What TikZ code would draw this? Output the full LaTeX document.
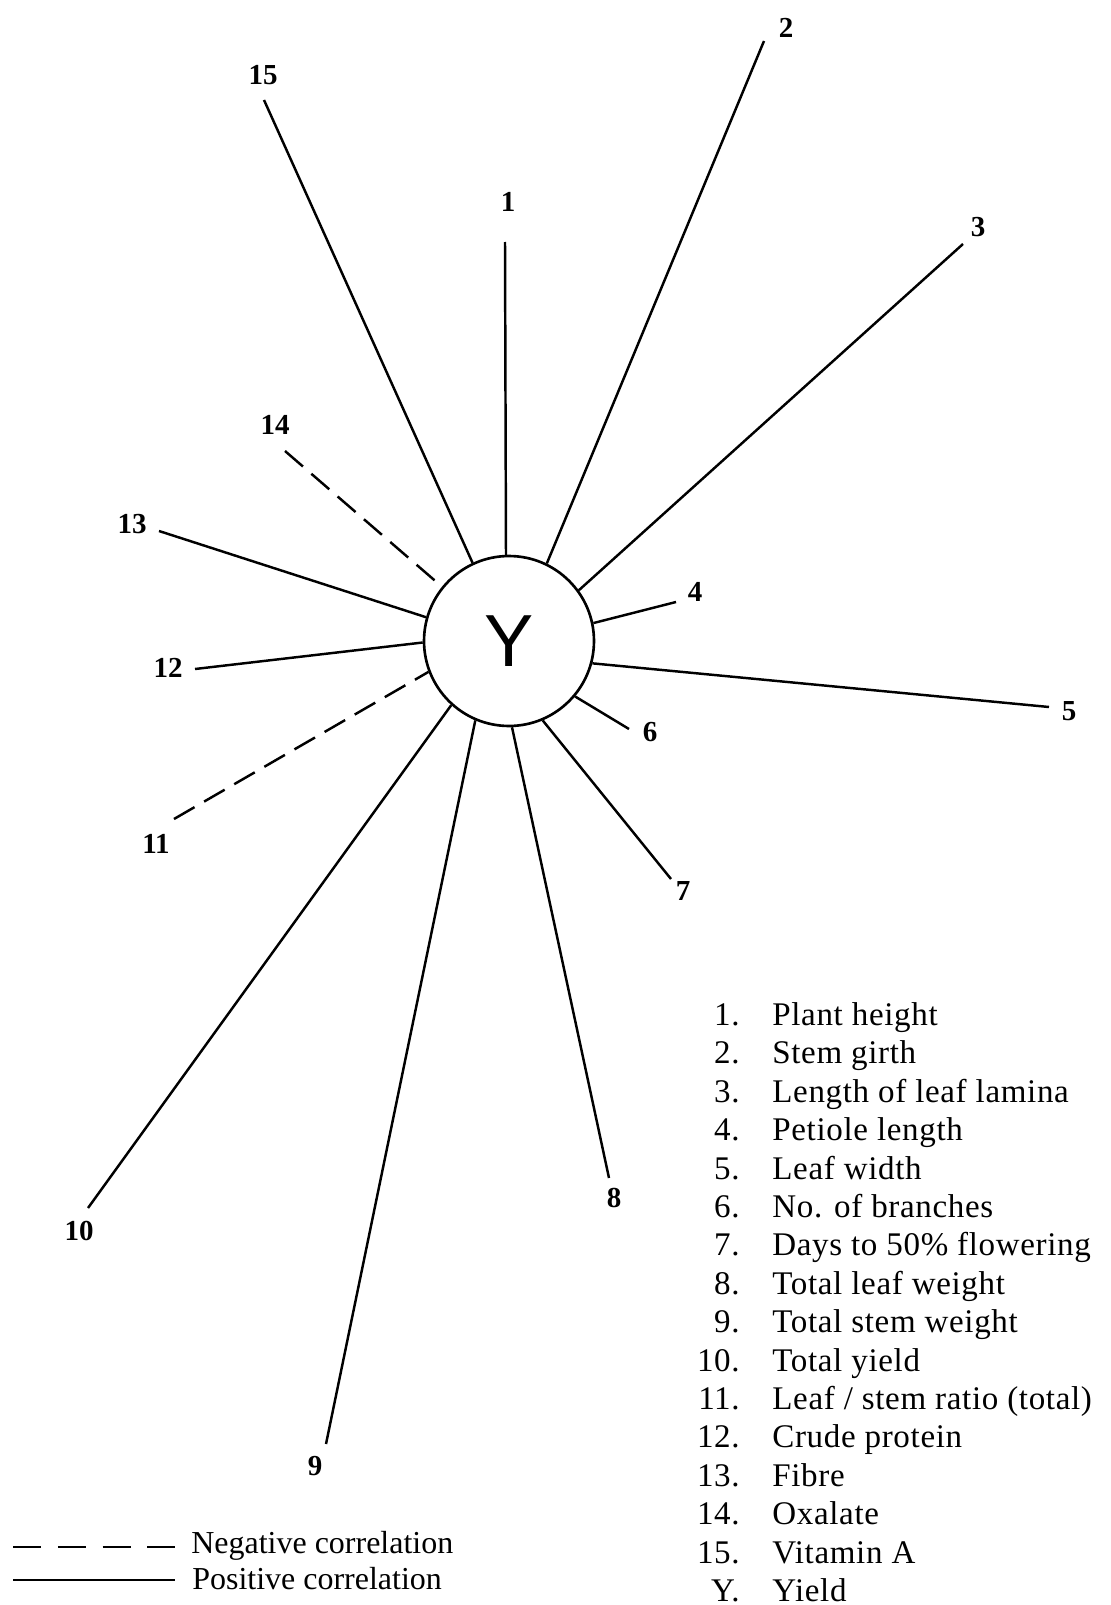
\documentclass[tikz,border=0pt]{standalone}
\usepackage{fontspec}
\setmainfont{Liberation Serif}
\newfontfamily\keyfont[LetterSpace=2]{Liberation Serif}
\newfontfamily\yieldfont{Liberation Sans}

\begin{document}
\begin{tikzpicture}[x=0.02cm,y=-0.02cm,
  ray/.style={line width=1.4pt},
  negray/.style={line width=1.4pt,dash pattern=on 13.5pt off 6.3pt},
  lbl/.style={font=\bfseries\fontsize{16.5}{18}\selectfont,inner sep=0pt},
  keynum/.style={font=\keyfont\fontsize{18.8}{22}\selectfont,inner sep=0pt,anchor=base east},
  keytext/.style={font=\keyfont\fontsize{18.8}{22}\selectfont,inner sep=0pt,anchor=base west}]
\useasboundingbox (0,0) rectangle (1111,1605);
\node[circle,draw,line width=1.5pt,minimum size=3.4cm,inner sep=0pt,font=\yieldfont\fontsize{42}{42}\selectfont] (Y) at (509,641) {Y};
\coordinate (e1) at (505,242);
\coordinate (e2) at (764,41);
\coordinate (e3) at (963,244);
\coordinate (e4) at (676,602);
\coordinate (e5) at (1049,707);
\coordinate (e6) at (629,729);
\coordinate (e7) at (671,879);
\coordinate (e8) at (609,1178);
\coordinate (e9) at (326,1444);
\coordinate (e10) at (88,1208);
\coordinate (e11) at (174,819);
\coordinate (e12) at (195,669);
\coordinate (e13) at (159,531);
\coordinate (e14) at (285,451);
\coordinate (e15) at (264,100);
\draw[ray] (Y.92) -- (e1);
\draw[ray] (Y.64) -- (e2);
\draw[ray] (Y.36) -- (e3);
\draw[ray] (Y.12) -- (e4);
\draw[ray] (Y.345) -- (e5);
\draw[ray] (Y.320) -- (e6);
\draw[ray] (Y.293) -- (e7);
\draw[ray] (Y.272) -- (e8);
\draw[ray] (Y.247) -- (e9);
\draw[ray] (Y.228) -- (e10);
\draw[negray] (e11) -- (Y.201);
\draw[ray] (Y.181) -- (e12);
\draw[ray] (Y.164) -- (e13);
\draw[negray] (e14) -- (Y.141);
\draw[ray] (Y.115) -- (e15);
\node[lbl] (l1) at (508,202) {1};
\node[lbl] (l2) at (786,28) {2};
\node[lbl] (l3) at (978,227) {3};
\node[lbl] (l4) at (695,592) {4};
\node[lbl] (l5) at (1069,711) {5};
\node[lbl] (l6) at (650,732) {6};
\node[lbl] (l7) at (683,891) {7};
\node[lbl] (l8) at (614,1198) {8};
\node[lbl] (l9) at (315,1466) {9};
\node[lbl] (l10) at (79,1231) {10};
\node[lbl] (l11) at (156,844) {11};
\node[lbl] (l12) at (168,668) {12};
\node[lbl] (l13) at (132,524) {13};
\node[lbl] (l14) at (275,425) {14};
\node[lbl] (l15) at (263,75) {15};
\node[keynum] (n1) at (740,1025) {1.};
\node[keynum] (n2) at (740,1063) {2.};
\node[keynum] (n3) at (740,1102) {3.};
\node[keynum] (n4) at (740,1140) {4.};
\node[keynum] (n5) at (740,1179) {5.};
\node[keynum] (n6) at (740,1217) {6.};
\node[keynum] (n7) at (740,1255) {7.};
\node[keynum] (n8) at (740,1294) {8.};
\node[keynum] (n9) at (740,1332) {9.};
\node[keynum] (n10) at (740,1371) {10.};
\node[keynum] (n11) at (740,1409) {11.};
\node[keynum] (n12) at (740,1447) {12.};
\node[keynum] (n13) at (740,1486) {13.};
\node[keynum] (n14) at (740,1524) {14.};
\node[keynum] (n15) at (740,1563) {15.};
\node[keynum] (nY) at (740,1601) {Y.};
\node[keytext] (t1) at (772,1025) {Plant height};
\node[keytext] (t2) at (772,1063) {Stem girth};
\node[keytext] (t3) at (772,1102) {Length of leaf lamina};
\node[keytext] (t4) at (772,1140) {Petiole length};
\node[keytext] (t5) at (772,1179) {Leaf width};
\node[keytext] (t6) at (772,1217) {No. of branches};
\node[keytext] (t7) at (772,1255) {Days to 50\% flowering};
\node[keytext] (t8) at (772,1294) {Total leaf weight};
\node[keytext] (t9) at (772,1332) {Total stem weight};
\node[keytext] (t10) at (772,1371) {Total yield};
\node[keytext] (t11) at (772,1409) {Leaf / stem ratio (total)};
\node[keytext] (t12) at (772,1447) {Crude protein};
\node[keytext] (t13) at (772,1486) {Fibre};
\node[keytext] (t14) at (772,1524) {Oxalate};
\node[keytext] (t15) at (772,1563) {Vitamin A};
\node[keytext] (tY) at (772,1601) {Yield};
\coordinate (na) at (13,1547);
\coordinate (nb) at (175,1547);
\coordinate (pa) at (13,1580);
\coordinate (pb) at (175,1580);
\draw[line width=1.4pt,dash pattern=on 16pt off 9.5pt] (na) -- (nb);
\draw[line width=1.4pt] (pa) -- (pb);
\node[keytext,font=\fontsize{18.2}{22}\selectfont] (neg) at (191,1553) {Negative correlation};
\node[keytext,font=\fontsize{18.2}{22}\selectfont] (pos) at (192,1589) {Positive correlation};
\end{tikzpicture}
\end{document}
